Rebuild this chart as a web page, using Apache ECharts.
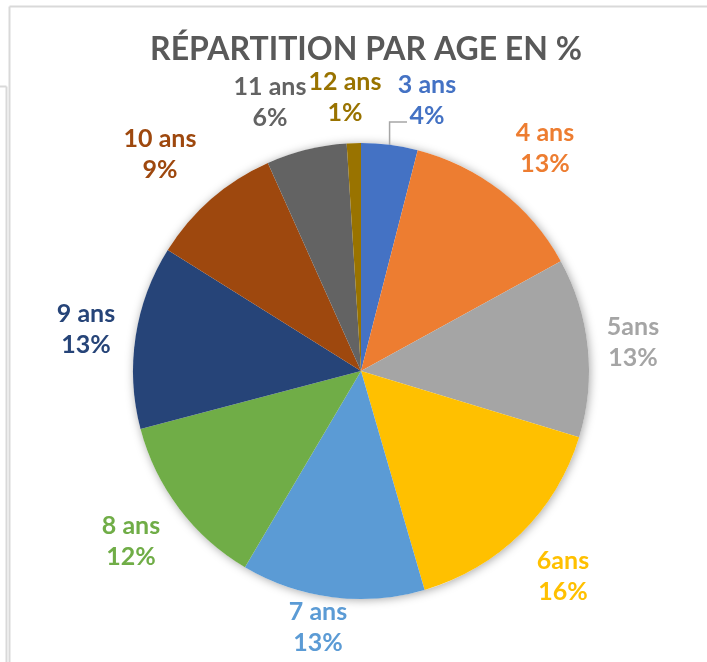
<!DOCTYPE html>
<html>
<head>
<meta charset="utf-8">
<script src="https://cdn.jsdelivr.net/npm/echarts@6/dist/echarts.min.js"></script>
<style>
html,body{margin:0;padding:0;background:#fff;}
#chart{width:707px;height:662px;}
</style>
</head>
<body>
<div id="chart"></div>
<script>
// tranches d'age et parts (en %)
var ages = ['3 ans','4 ans','5ans','6ans','7 ans','8 ans','9 ans','10 ans','11 ans','12 ans'];
var parts = [4, 13, 12.7, 15.8, 13, 12.4, 13, 9.4, 5.7, 1];
var colors = ['#4472C4','#ED7D31','#A5A5A5','#FFC000','#5B9BD5','#70AD47','#264478','#9E480E','#636363','#997300'];
// position des etiquettes (centre du bloc de texte)
var labelPos = [[427,100],[545,148],[633,342],[563,576],[318,627],[131,541],[86,329],[160,154],[270,102],[345,97]];

var chart = echarts.init(document.getElementById('chart'));

var option = {
	backgroundColor:'#fff',
	title:{
		text:'RÉPARTITION PAR AGE EN %',
		left:361,
		top:29,
		textAlign:'center',
		textStyle:{
			color:'#595959',
			fontFamily:'Lato',
			fontWeight:'bold',
			fontSize:32
		}
	},
	graphic:[
		{type:'line',shape:{x1:9.5,y1:6.5,x2:707,y2:6.5},style:{stroke:'#d9d9d9',lineWidth:2}},
		{type:'line',shape:{x1:9.5,y1:6.5,x2:9.5,y2:662},style:{stroke:'#d9d9d9',lineWidth:2}},
		{type:'line',shape:{x1:0,y1:86.5,x2:6.5,y2:86.5},style:{stroke:'#d9d9d9',lineWidth:2}},
		{type:'line',shape:{x1:6.5,y1:86.5,x2:6.5,y2:662},style:{stroke:'#d9d9d9',lineWidth:2}}
	],
	series:[
		{
			// ombre sous le disque
			type:'pie',
			silent:true,
			z:1,
			center:[361,371],
			radius:228,
			label:{show:false},
			labelLine:{show:false},
			itemStyle:{color:'#fff',shadowBlur:10,shadowColor:'rgba(0,0,0,0.35)',shadowOffsetX:1,shadowOffsetY:1},
			data:[{value:1,name:''}]
		},
		{
			type:'pie',
			z:2,
			center:[361,371],
			radius:228,
			startAngle:90,
			clockwise:true,
			percentPrecision:0,
			avoidLabelOverlap:false,
			emphasis:{disabled:true},
			label:{
				show:true,
				position:'outside',
				formatter:'{b}\n{d}%',
				fontFamily:'Lato',
				fontWeight:'bold',
				fontSize:25,
				lineHeight:31,
				align:'center'
			},
			labelLine:{show:false},
			labelLayout:function(p){
				var pos = labelPos[p.dataIndex];
				var res = {x:pos[0],y:pos[1],align:'center',verticalAlign:'middle'};
				if(p.dataIndex == 0 && p.labelLinePoints){
					var s = p.labelLinePoints[0];
					res.labelLinePoints = [s,[s[0],122],[407,122]];
				}
				return res;
			},
			data:(function(){
				var arr = [];
				for(var i = 0;i<ages.length;i++){
					arr.push({
						value:parts[i],
						name:ages[i],
						itemStyle:{color:colors[i]},
						label:{color:colors[i]}
					});
				}
				// trait de rappel pour 3 ans
				arr[0].labelLine = {show:true,lineStyle:{color:'#a6a6a6',width:1.5}};
				return arr;
			})()
		}
	]
};
chart.setOption(option);
</script>
</body>
</html>
